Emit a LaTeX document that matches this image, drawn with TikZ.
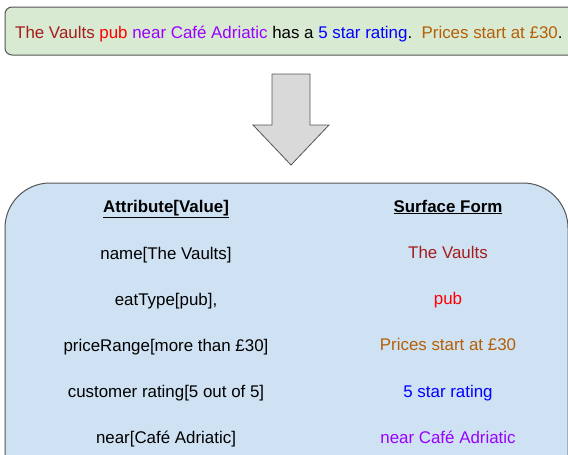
\documentclass[tikz,border=0pt]{standalone}
\usepackage{fontspec}
\setmainfont{Liberation Sans}
\definecolor{boxgreen}{HTML}{D9EAD3}
\definecolor{boxblue}{HTML}{CFE2F3}
\definecolor{edge}{HTML}{555555}
\definecolor{arrowfill}{HTML}{D9D9D9}
\definecolor{cvault}{HTML}{A61C1C}
\definecolor{cpub}{HTML}{FF0000}
\definecolor{cnear}{HTML}{9900FF}
\definecolor{cstar}{HTML}{0000FF}
\definecolor{cprice}{HTML}{B45F06}
\tikzset{
  lbl/.style={font=\fontsize{16.9}{19}\selectfont, inner sep=0pt, anchor=base},
  hdr/.style={lbl, font=\fontsize{16.9}{19}\selectfont\bfseries},
}
\newcommand{\ulhead}[1]{\underline{#1}}
\begin{document}
\begin{tikzpicture}[x=1pt,y=-1pt]
\useasboundingbox (0,0) rectangle (568,455);
\clip (0,0) rectangle (568,455);
% top sentence box
\draw[edge, fill=boxgreen, line width=1pt, rounded corners=7pt] (5,7) rectangle (590,55);
\node[lbl, anchor=base west] (sent) at (15,38) {\textcolor{cvault}{The Vaults} \textcolor{cpub}{pub} \textcolor{cnear}{near Café Adriatic} has a \textcolor{cstar}{5 star rating}.\ \ \textcolor{cprice}{Prices start at £30}.};
% down arrow
\draw[edge, fill=arrowfill, line width=0.8pt] (272,74) -- (310,74) -- (310,125) -- (329,125) -- (291,165) -- (253,125) -- (272,125) -- cycle;
% bottom table box
\draw[edge, fill=boxblue, line width=1pt, rounded corners=45pt] (5,183) rectangle (568,500);
% headers
\node[hdr] (hA) at (166,212) {\ulhead{Attribute[Value]}};
\node[hdr] (hS) at (448,212) {\ulhead{Surface Form}};
% left column
\node[lbl] (a1) at (166,259) {name[The Vaults]};
\node[lbl] (a2) at (166,305) {eatType[pub],};
\node[lbl] (a3) at (166,351) {priceRange[more than £30]};
\node[lbl] (a4) at (166,397) {customer rating[5 out of 5]};
\node[lbl] (a5) at (166,443) {near[Café Adriatic]};
% right column
\node[lbl, text=cvault] (s1) at (448,258) {The Vaults};
\node[lbl, text=cpub] (s2) at (448,304) {pub};
\node[lbl, text=cprice] (s3) at (448,350) {Prices start at £30};
\node[lbl, text=cstar] (s4) at (448,397) {5 star rating};
\node[lbl, text=cnear] (s5) at (448,443) {near Café Adriatic};
\end{tikzpicture}
\end{document}
